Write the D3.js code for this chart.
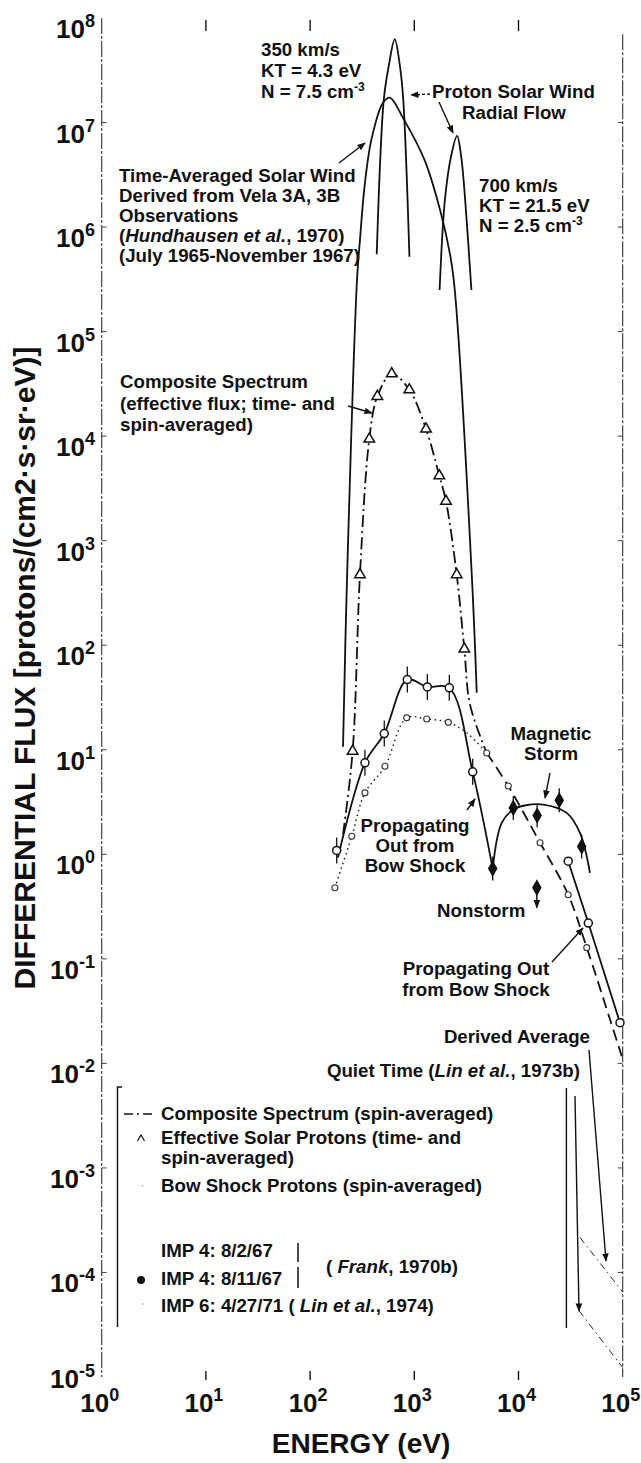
<!DOCTYPE html>
<html>
<head>
<meta charset="utf-8">
<script src="https://cdn.jsdelivr.net/npm/d3@7"></script>
<style>
  body { margin: 0; background: #fff; }
  svg text { font-family: "Liberation Sans", Arial, Helvetica, sans-serif; font-weight: bold; fill: #111; }
</style>
</head>
<body>
<svg id="chart" width="641" height="1463"></svg>
<script>
// ---- data: [energy eV, flux] ----
var sw350 = [[436,5.5e5],[509,1.64e7],[567,3.42e7],[649,6.26e7],[729,3.42e7],[784,1.64e7],[898,5.2e5]];
var sw700 = [[1749,2.5e5],[1967,1.82e6],[2250,4.72e6],[2574,7.45e6],[2819,4.72e6],[3077,1.82e6],[3532,2.5e5]];
var swAverage = [[207,10.7],[226,424],[282,3.13e5],[301,7.55e5],[333,2.44e6],[387,6.82e6],[499,1.54e7],[582,1.73e7],
                 [798,1.06e7],[1253,4.39e6],[1796,1.37e6],[2250,4.86e5],[2460,2.35e5],[3580,424],[3972,35.2]];

// composite spectrum: solar-wind part (dash-dot) then bow-shock part (long dash)
var compositeLow = [[207,1.55],[256,9.7],[301,473],[370,9.4e3],[442,2.4e4],[607,3.95e4],[895,2.78e4],[1295,1.17e4],
                    [1738,4.18e3],[2015,2.38e3],[2553,473],[3020,92],[3425,27],[4955,9.3]];
var compositeHigh = [[4955,9.3],[7980,4.5],[16100,1.29],[30000,0.41],[45200,0.128],[75500,0.0264],[98000,0.0117]];
var solarProtons = [[256,9.7],[301,473],[370,9.4e3],[442,2.4e4],[607,3.95e4],[895,2.78e4],[1295,1.17e4],
                    [1738,4.18e3],[2015,2.38e3],[2553,473],[3020,92]];

var bowShockLine = [[173,0.478],[251,1.49],[336,3.87],[523,6.95],[845,20.2],[1315,19.7],[2119,18.3],[3185,14.5],[4955,9.3]];
var bowShockPts = [[173,0.478],[251,1.49],[336,3.87],[523,6.95],[845,20.2],[1315,19.7],[2119,18.3],
                   [4955,9.3],[7980,4.5],[16100,1.29],[30000,0.41],[45200,0.128]];

var imp4aLine = [[185,0.93],[336,7.5],[515,14.3],[857,46.9],[1334,39.9],[2167,39.1],[3634,6.15],[5654,0.73]];
var imp4aPts = [[180,1.09],[336,7.5],[515,14.3],[857,46.9],[1334,39.9],[2167,39.1],[3634,6.15]];
var imp4aHigh = [[30000,0.86],[46800,0.22],[94200,0.0245]];

var imp4bLine = [[5654,0.73],[6900,2.0],[8913,2.68],[11500,2.93],[17300,2.99],[29000,2.49],[38900,1.6],[48500,0.665]];
var imp4bPts = [[5654,0.73],[8913,2.78],[15100,2.35],[24600,3.29],[40400,1.19]];
var imp4bNonstorm = [[15000,0.48]];

var derivedAverage = [[38900,2.16e-4],[100000,6.5e-5]];
var quietTime = [[38100,4.3e-5],[100000,1.23e-5]];

var xTickVals = [1,10,100,1000,10000,100000];
var yTickVals = [1e-5,1e-4,1e-3,1e-2,1e-1,1,10,100,1e3,1e4,1e5,1e6,1e7,1e8];

// ---- scales ----
var x = d3.scaleLog().domain([1,1e5]).range([101.7,622.7]);
var y = d3.scaleLog().domain([1e-5,1e8]).range([1377,18]);

var svg = d3.select("#chart");
var defs = svg.append("defs");
defs.append("marker").attr("id","ah").attr("viewBox","0 0 10 10")
  .attr("refX",9).attr("refY",5).attr("markerWidth",6).attr("markerHeight",6)
  .attr("orient","auto").append("path").attr("d","M0,1L10,5L0,9z").attr("fill","#111");

var ink = "#111";
var fs = 18.7;
var line = d3.line().x(function(d){return x(d[0]);}).y(function(d){return y(d[1]);})
  .curve(d3.curveCatmullRom.alpha(0.5));
var straight = d3.line().x(function(d){return x(d[0]);}).y(function(d){return y(d[1]);});

// ---- axes: vertical frame lines + inward ticks ----
[1,1e5].forEach(function(v){
  svg.append("line").attr("x1",x(v)).attr("x2",x(v)).attr("y1",y(v==1?1e8:7e7)).attr("y2",y(1e-5))
    .attr("stroke","#333").attr("stroke-width",1.1).attr("stroke-dasharray","16,2,3,2");
});
xTickVals.slice(1,5).forEach(function(v){
  svg.append("line").attr("x1",x(v)).attr("x2",x(v)).attr("y1",y(1e8)+2).attr("y2",y(1e8)+13)
    .attr("stroke",ink).attr("stroke-width",1.4);
  svg.append("line").attr("x1",x(v)).attr("x2",x(v)).attr("y1",y(1e-5)-6).attr("y2",y(1e-5)+3)
    .attr("stroke",ink).attr("stroke-width",1.4);
});
yTickVals.slice(1,13).forEach(function(v){
  svg.append("line").attr("x1",x(1)).attr("x2",x(1)+5).attr("y1",y(v)).attr("y2",y(v))
    .attr("stroke","#444").attr("stroke-width",1);
  svg.append("line").attr("x1",x(1e5)-5).attr("x2",x(1e5)).attr("y1",y(v)).attr("y2",y(v))
    .attr("stroke","#444").attr("stroke-width",1);
});

// tick labels with superscript exponents
yTickVals.forEach(function(v){
  var p = Math.round(Math.log10(v));
  var t = svg.append("text").attr("x",95).attr("y",y(v) + (p==-5 ? 11 : 20))
    .attr("text-anchor","end").attr("font-size",26);
  t.append("tspan").text("10");
  t.append("tspan").attr("dy",-11).attr("font-size",18).text(p);
});
xTickVals.forEach(function(v){
  var p = Math.round(Math.log10(v));
  var t = svg.append("text").attr("x",x(v)-2).attr("y",1412)
    .attr("text-anchor","middle").attr("font-size",26);
  t.append("tspan").text("10");
  t.append("tspan").attr("dy",-11).attr("font-size",18).text(p);
});

svg.append("text").attr("x",361).attr("y",1453).attr("text-anchor","middle")
  .attr("font-size",28).text("ENERGY (eV)");
svg.append("text").attr("transform","translate(35,668) rotate(-90)").attr("text-anchor","middle")
  .attr("font-size",30).text("DIFFERENTIAL FLUX [protons/(cm2\u00b7s\u00b7sr\u00b7eV)]");

// ---- curves ----
function curve(data, dash, w){
  svg.append("path").datum(data).attr("d",line).attr("fill","none").attr("stroke",ink)
    .attr("stroke-width",w||1.8).attr("stroke-dasharray",dash||null);
}
curve(swAverage);
curve(sw350);
curve(sw700);
curve(compositeLow,"12,4,2,4",1.8);
curve(compositeHigh,"11,6",1.8);
curve(bowShockLine,"1.5,3.5",1.4);
curve(imp4aLine);
svg.append("path").datum(imp4aHigh).attr("d",straight).attr("fill","none").attr("stroke",ink).attr("stroke-width",1.8);
curve(imp4bLine);
[derivedAverage, quietTime].forEach(function(d){
  svg.append("path").datum(d).attr("d",straight).attr("fill","none").attr("stroke","#222")
    .attr("stroke-width",1).attr("stroke-dasharray","7,4,1.5,4");
});

// ---- markers ----
function errBars(data, len){
  svg.selectAll(null).data(data).enter().append("line")
    .attr("x1",function(d){return x(d[0]);}).attr("x2",function(d){return x(d[0]);})
    .attr("y1",function(d){return y(d[1])-len;}).attr("y2",function(d){return y(d[1])+len;})
    .attr("stroke",ink).attr("stroke-width",1.3);
}
errBars(imp4aPts,13);
errBars(imp4bPts,12);

svg.selectAll(null).data(solarProtons).enter().append("path")
  .attr("d",d3.symbol(d3.symbolTriangle).size(48))
  .attr("transform",function(d){return "translate("+x(d[0])+","+y(d[1])+")";})
  .attr("fill","#fff").attr("stroke",ink).attr("stroke-width",1.5);

svg.selectAll(null).data(bowShockPts).enter().append("circle")
  .attr("cx",function(d){return x(d[0]);}).attr("cy",function(d){return y(d[1]);}).attr("r",3)
  .attr("fill","#fff").attr("stroke","#333").attr("stroke-width",1.1);

svg.selectAll(null).data(imp4aPts.concat(imp4aHigh)).enter().append("circle")
  .attr("cx",function(d){return x(d[0]);}).attr("cy",function(d){return y(d[1]);}).attr("r",4)
  .attr("fill","#fff").attr("stroke",ink).attr("stroke-width",1.5);

svg.selectAll(null).data(imp4bPts.concat(imp4bNonstorm)).enter().append("path")
  .attr("d",d3.symbol(d3.symbolDiamond).size(80))
  .attr("transform",function(d){return "translate("+x(d[0])+","+y(d[1])+")";})
  .attr("fill",ink);
imp4bNonstorm.forEach(function(d){
  svg.append("line").attr("x1",x(d[0])).attr("x2",x(d[0])).attr("y1",y(d[1])).attr("y2",y(d[1])+20)
    .attr("stroke",ink).attr("stroke-width",1.5).attr("marker-end","url(#ah)");
});

// ---- annotations ----
function label(lines, x0, y0, lh, size, anchor){
  lh = lh || 20;
  lines.forEach(function(s,i){
    var t = svg.append("text").attr("x",x0).attr("y",y0+i*lh).attr("font-size",size||fs)
      .attr("text-anchor",anchor||"start");
    (Array.isArray(s)?s:[s]).forEach(function(part){
      if (typeof part === "string") t.append("tspan").text(part);
      else {
        var sp = t.append("tspan").text(part.t);
        if (part.i) sp.attr("font-style","italic");
        if (part.sup) sp.attr("dy",-7).attr("font-size",12);
      }
    });
  });
}
function arrow(x1,y1,x2,y2,dash){
  svg.append("line").attr("x1",x1).attr("y1",y1).attr("x2",x2).attr("y2",y2)
    .attr("stroke",ink).attr("stroke-width",1.4).attr("stroke-dasharray",dash||null)
    .attr("marker-end","url(#ah)");
}

label(["350 km/s","KT = 4.3 eV",["N = 7.5 cm",{t:"-3",sup:1}]],261,56,21);
label(["Proton Solar Wind"],432,98);
label(["Radial Flow"],514,119,21,fs,"middle");
label(["700 km/s","KT = 21.5 eV",["N = 2.5 cm",{t:"-3",sup:1}]],479,192,20);
label(["Time-Averaged Solar Wind","Derived from Vela 3A, 3B","Observations",
       ["(",{t:"Hundhausen et al.",i:1},", 1970)"],"(July 1965-November 1967)"],119,182,20);
label(["Composite Spectrum","(effective flux; time- and","spin-averaged)"],120,388,21.7);
label(["Magnetic","Storm"],551,740,20,fs,"middle");
label(["Propagating","Out from","Bow Shock"],415,832,20,fs,"middle");
label(["Nonstorm"],437,917);
label(["Propagating Out","from Bow Shock"],476,975,21,fs,"middle");
label(["Derived Average"],590,1043,20,fs,"end");
label([["Quiet Time (",{t:"Lin et al.",i:1},", 1973b)"]],580,1077,20,fs,"end");

arrow(339,163,365,143);
arrow(430,94,411,95,"3,2");
arrow(439,102,453,133);
arrow(348,406,372,413);
arrow(550,773,545,798);
arrow(467,810,475,799);
arrow(552,962,583,928);
arrow(589,1050,606,1261);
arrow(575,1096,579,1311);

// ---- legend ----
svg.append("path").attr("d","M122,1087H117.5V1327").attr("fill","none").attr("stroke",ink).attr("stroke-width",1.4);
svg.append("line").attr("x1",566.4).attr("x2",566.4).attr("y1",1088).attr("y2",1328).attr("stroke",ink).attr("stroke-width",1.4);
svg.append("line").attr("x1",124).attr("x2",156).attr("y1",1114).attr("y2",1114)
  .attr("stroke",ink).attr("stroke-width",1.6).attr("stroke-dasharray","9,4,2,4");
svg.append("path").attr("d","M137.5,1141L141,1135L144.5,1141").attr("fill","none").attr("stroke",ink).attr("stroke-width",1.2);
svg.append("circle").attr("cx",142.5).attr("cy",1186).attr("r",1).attr("fill","#bbb");
svg.append("circle").attr("cx",141).attr("cy",1280).attr("r",4).attr("fill",ink);
svg.append("circle").attr("cx",142.5).attr("cy",1304).attr("r",1).attr("fill","#bbb");
svg.append("line").attr("x1",298).attr("x2",298).attr("y1",1243).attr("y2",1262).attr("stroke",ink).attr("stroke-width",1.5);
svg.append("line").attr("x1",298).attr("x2",298).attr("y1",1267).attr("y2",1288).attr("stroke",ink).attr("stroke-width",1.5);

label(["Composite Spectrum (spin-averaged)"],161,1120);
label(["Effective Solar Protons (time- and","spin-averaged)"],161,1144,19.5);
label(["Bow Shock Protons (spin-averaged)"],161,1192);
label(["IMP 4: 8/2/67"],161,1257);
label(["IMP 4: 8/11/67"],161,1285);
label([["( ",{t:"Frank",i:1},", 1970b)"]],326,1273);
label([["IMP 6: 4/27/71 ( ",{t:"Lin et al.",i:1},", 1974)"]],161,1312);
</script>
</body>
</html>
